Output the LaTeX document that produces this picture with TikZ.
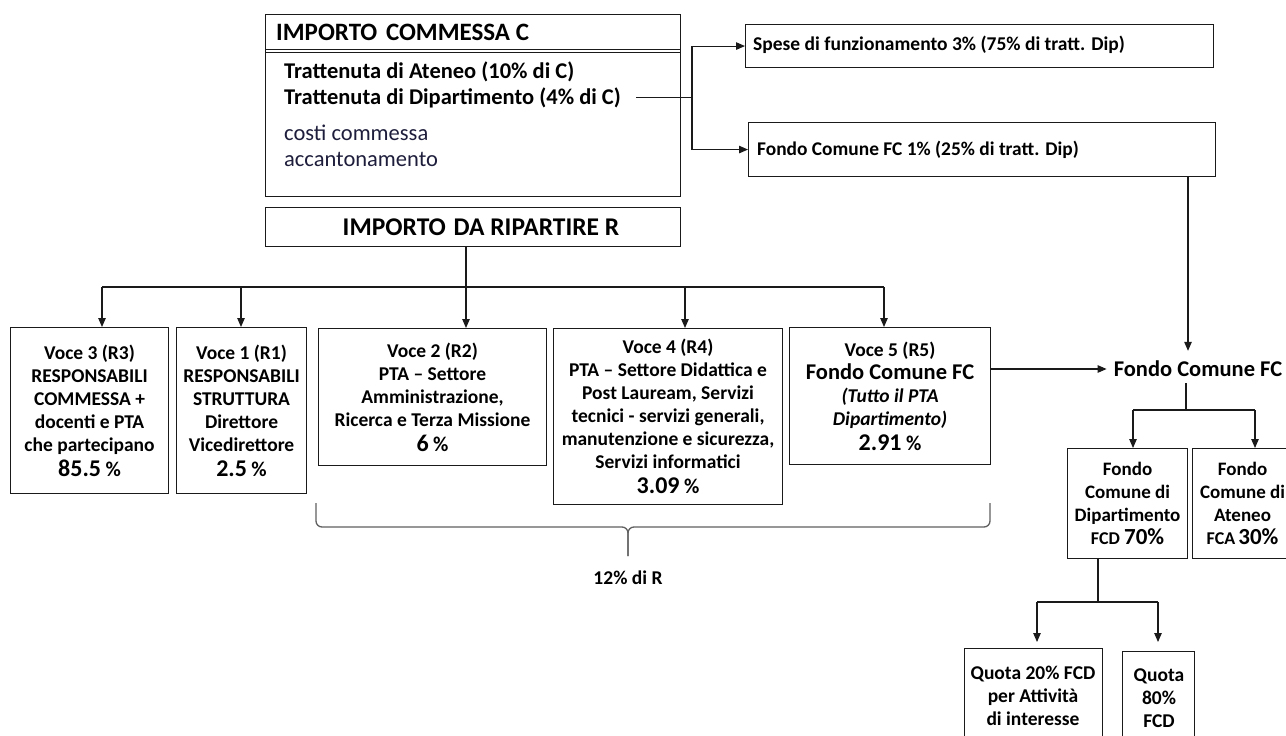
\documentclass[tikz,border=0pt]{standalone}
\usepackage{fontspec}
\setmainfont{Carlito}
\usetikzlibrary{arrows.meta,calc}
\definecolor{linec}{HTML}{1A1A1A}
\definecolor{bracec}{HTML}{606060}
\definecolor{navy}{HTML}{1E1E3C}
\newcommand{\fs}[2]{\fontsize{#1}{#2}\selectfont}
\newcommand{\pct}[1]{{\fs{24}{23}#1} {\fs{21}{23}\%}}
\begin{document}
\begin{tikzpicture}[x=1pt,y=-1pt,
  box/.style={draw=linec, line width=1.1pt, anchor=north west, inner sep=0pt, align=center, font=\bfseries\fs{19.5}{23}},
  lbl/.style={inner sep=0pt, font=\bfseries\fs{22.5}{27}},
  ln/.style={draw=linec, line width=1.1pt},
  arr/.style={ln, -{Triangle[length=9pt,width=7.5pt]}},
  brc/.style={draw=bracec, line width=1.3pt, rounded corners=6pt},
]
\useasboundingbox (0,0) rectangle (1286,736);

% ---- top box
\node[box, minimum width=415pt, minimum height=182pt] (top) at (265,14) {};
\draw[ln] ([yshift=-35.5pt]top.north west) -- ([yshift=-35.5pt]top.north east);
\draw[ln] ([yshift=-38.5pt]top.north west) -- ([yshift=-38.5pt]top.north east);
\node[lbl, anchor=base west, font=\bfseries\fs{25}{28}] (hdr) at (276,40) {IMPORTO\hspace{3pt} COMMESSA C};
\node[lbl, anchor=base west] (tatn) at (284,78) {Trattenuta di Ateneo (10\% di C)};
\node[lbl, anchor=base west] (tdip) at (284,104) {Trattenuta di Dipartimento (4\% di C)};
\node[lbl, anchor=base west, font=\fs{22.5}{27}, text=navy] (costi) at (284,140) {costi commessa};
\node[lbl, anchor=base west, font=\fs{22.5}{27}, text=navy] (acc) at (284,166) {accantonamento};

% ---- right top boxes
\node[box, minimum width=468pt, minimum height=43pt] (spese) at (745,24) {};
\node[lbl, anchor=west, font=\bfseries\fs{19.5}{24}] (spesetxt) at ([xshift=8pt,yshift=1pt]spese.west) {Spese di funzionamento 3\% (75\% di tratt. Dip)};
\node[box, minimum width=467pt, minimum height=54pt] (fc1) at (748,122) {};
\node[lbl, anchor=west, font=\bfseries\fs{19.4}{24}] (fc1txt) at ([xshift=9pt]fc1.west) {Fondo Comune FC 1\% (25\% di tratt. Dip)};

\coordinate (tj) at (692,97);
\draw[ln] ([xshift=15pt]tdip.east) -- (tdip.east -| tj);
\draw[arr] (tdip.east -| tj) |- (spese.west);
\draw[arr] (tdip.east -| tj) |- (fc1.west);

% ---- importo da ripartire
\node[box, minimum width=415pt, minimum height=39pt] (rip) at (265,207) {};
\node[lbl, font=\bfseries\fs{25.5}{28}] (riptxt) at (481,227) {IMPORTO\hspace{2pt} DA RIPARTIRE R};

% ---- voci
\node[box, minimum width=158pt, minimum height=166pt] (v3) at (10,327)
  {Voce 3 (R3)\\RESPONSABILI\\COMMESSA +\\docenti e PTA\\che partecipano\\[2pt]\pct{85.5}};
\node[box, minimum width=130pt, minimum height=166pt] (v1) at (176,327)
  {Voce 1 (R1)\\RESPONSABILI\\STRUTTURA\\Direttore\\Vicedirettore\\[2pt]\pct{2.5}};
\node[box, minimum width=228pt, minimum height=137pt] (v2) at (318,328)
  {Voce 2 (R2)\\PTA – Settore\\Amministrazione,\\Ricerca e Terza Missione\\[2pt]\pct{6}};
\node[box, minimum width=229pt, minimum height=176pt] (v4) at (553,328)
  {Voce 4 (R4)\\PTA – Settore Didattica e\\Post Lauream, Servizi\\tecnici - servizi generali,\\manutenzione e sicurezza,\\Servizi informatici\\[2pt]\pct{3.09}};
\node[box, minimum width=201pt, minimum height=137pt] (v5) at (789,327)
  {Voce 5 (R5)\\{\fs{22.5}{23}Fondo Comune FC}\\{\itshape (Tutto il PTA}\\{\itshape Dipartimento)}\\[2pt]\pct{2.91}};

\coordinate (bl) at (102,287);
\coordinate (b1) at (241,287);
\coordinate (bm) at (466,287);
\coordinate (b4) at (685,287);
\coordinate (br) at (884,287);
\draw[ln] (bm |- rip.south) -- (bm);
\draw[ln] (bl) -- (br);
\draw[arr] (bl) -- (bl |- v3.north);
\draw[arr] (b1) -- (b1 |- v1.north);
\draw[arr] (bm) -- (bm |- v2.north);
\draw[arr] (b4) -- (b4 |- v4.north);
\draw[arr] (br) -- (br |- v5.north);

% ---- brace
\draw[brc] (316,503) -- (316,527) -- (628,527) -- (628,556);
\draw[brc] (990,503) -- (990,527) -- (628,527) -- (628,556);
\node[lbl, font=\bfseries\fs{19.5}{24}] (pr) at (628,578) {12\% di R};

% ---- fondo comune
\node[lbl, font=\bfseries\fs{22.5}{27}] (fc) at (1198,369) {Fondo Comune FC};
\draw[arr] (v5.east |- fc) -- ([xshift=-7pt]fc.west);
\coordinate (fcin) at (1188,176);
\draw[arr] (fcin) -- ($(fcin |- fc.north)+(0,-10)$);

\node[box, minimum width=120pt, minimum height=110pt, font=\bfseries\fs{19}{23}] (fcd) at (1067,448)
  {Fondo\\Comune di\\Dipartimento\\{\fs{18}{23}FCD} {\fs{23}{23}70\%}};
\node[box, minimum width=100pt, minimum height=110pt, font=\bfseries\fs{19}{23}] (fca) at (1192,448)
  {Fondo\\Comune di\\Ateneo\\{\fs{18}{23}FCA}\,{\fs{23}{23}30\%}};

\coordinate (fj) at (1186,410);
\coordinate (fl) at (1133,410);
\coordinate (fr) at (1255,410);
\draw[ln] ($(fj |- fc.south)+(0,6)$) -- (fj);
\draw[ln] (fl) -- (fr);
\draw[arr] (fl) -- (fl |- fcd.north);
\draw[arr] (fr) -- (fr |- fca.north);

% ---- quote
\node[box, minimum width=138pt, minimum height=100pt] (q20) at (964,648) {};
\node[box, minimum width=72pt, minimum height=100pt] (q80) at (1122,651) {};
\node[lbl, align=center, font=\bfseries\fs{19.5}{23}] (q20t) at (1033,696) {Quota 20\% FCD\\per Attività\\di interesse};
\node[lbl, align=center, font=\bfseries\fs{19.5}{23}] (q80t) at (1159,698) {Quota\\80\%\\FCD};

\coordinate (qj) at (1098,602);
\coordinate (ql) at (1037,602);
\coordinate (qr) at (1158,602);
\draw[ln] (qj |- fcd.south) -- (qj);
\draw[ln] (ql) -- (qr);
\draw[arr] (ql) -- ($(ql |- q20.north)+(0,-6)$);
\draw[arr] (qr) -- ($(qr |- q80.north)+(0,-9)$);
\end{tikzpicture}
\end{document}
